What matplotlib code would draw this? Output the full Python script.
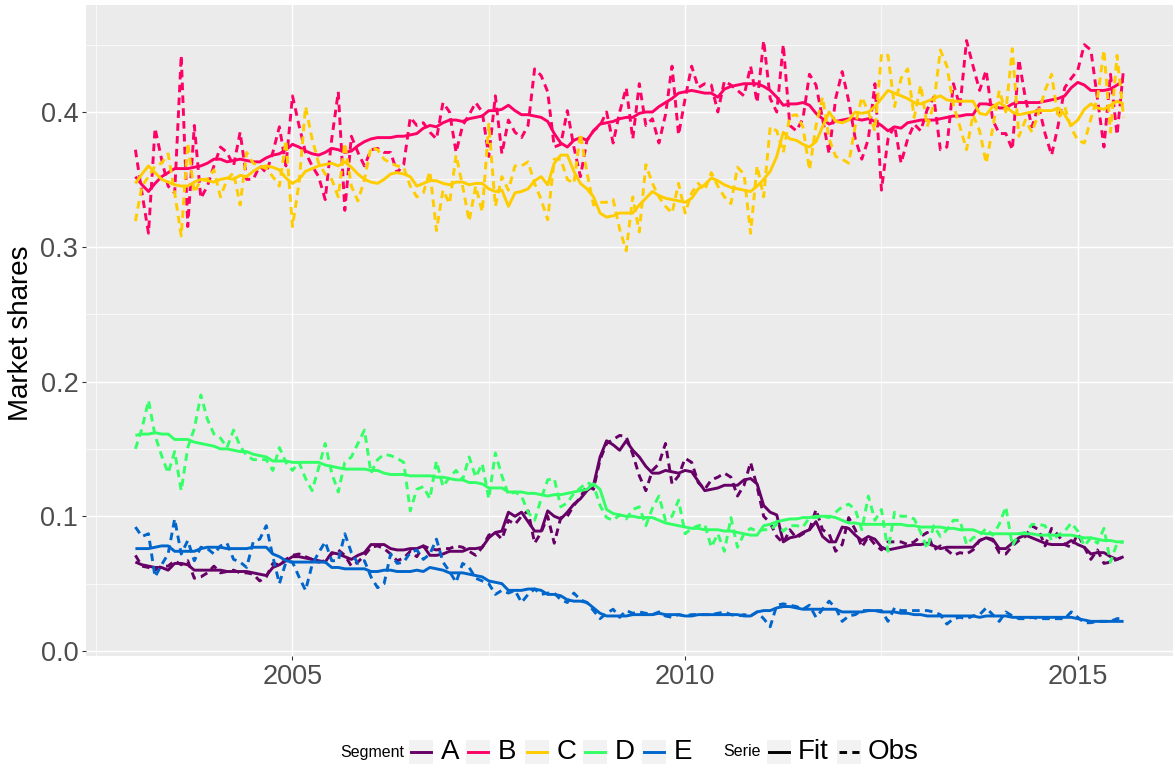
import numpy as np
import matplotlib
matplotlib.use("Agg")
import matplotlib.pyplot as plt
from matplotlib.lines import Line2D
from matplotlib.patches import Rectangle

plt.rcParams['font.family'] = ['Liberation Sans', 'DejaVu Sans']

# monthly series, Jan 2003 .. Aug 2015
start_year, n_months = 2003, 152
segments = ['A', 'B', 'C', 'D', 'E']
colors = {'A': '#660066', 'B': '#FF0066', 'C': '#FFCC00', 'D': '#33FF66', 'E': '#0066CC'}

fit_A = [0.066, 0.064, 0.063, 0.062, 0.062, 0.060, 0.065, 0.065, 0.064, 0.060, 0.060, 0.060,
         0.060, 0.060, 0.059, 0.059, 0.059, 0.059, 0.058, 0.057, 0.056, 0.062, 0.064, 0.067,
         0.070, 0.070, 0.069, 0.068, 0.067, 0.066, 0.073, 0.072, 0.070, 0.068, 0.071, 0.073,
         0.079, 0.079, 0.079, 0.076, 0.075, 0.075, 0.076, 0.076, 0.078, 0.071, 0.071, 0.072,
         0.074, 0.074, 0.074, 0.076, 0.076, 0.077, 0.084, 0.088, 0.089, 0.103, 0.100, 0.103,
         0.096, 0.089, 0.089, 0.104, 0.100, 0.098, 0.103, 0.109, 0.113, 0.119, 0.123, 0.144,
         0.156, 0.153, 0.149, 0.156, 0.149, 0.144, 0.137, 0.132, 0.132, 0.134, 0.133, 0.132,
         0.134, 0.133, 0.126, 0.119, 0.120, 0.121, 0.123, 0.123, 0.123, 0.127, 0.128, 0.124,
         0.108, 0.103, 0.101, 0.081, 0.084, 0.085, 0.088, 0.090, 0.096, 0.085, 0.081, 0.081,
         0.092, 0.091, 0.086, 0.082, 0.085, 0.083, 0.077, 0.075, 0.076, 0.077, 0.078, 0.079,
         0.079, 0.080, 0.078, 0.076, 0.077, 0.077, 0.077, 0.077, 0.077, 0.082, 0.084, 0.083,
         0.076, 0.076, 0.080, 0.084, 0.086, 0.084, 0.082, 0.080, 0.079, 0.079, 0.079, 0.082,
         0.079, 0.077, 0.072, 0.073, 0.073, 0.070, 0.068, 0.070]
obs_A = [0.071, 0.063, 0.062, 0.060, 0.063, 0.063, 0.067, 0.064, 0.067, 0.054, 0.055, 0.058,
         0.063, 0.058, 0.059, 0.060, 0.058, 0.058, 0.057, 0.052, 0.055, 0.065, 0.064, 0.068,
         0.071, 0.072, 0.070, 0.068, 0.066, 0.067, 0.072, 0.075, 0.071, 0.063, 0.066, 0.071,
         0.077, 0.078, 0.076, 0.072, 0.067, 0.069, 0.074, 0.070, 0.078, 0.076, 0.075, 0.076,
         0.076, 0.078, 0.077, 0.074, 0.071, 0.077, 0.086, 0.088, 0.083, 0.097, 0.094, 0.100,
         0.104, 0.080, 0.088, 0.100, 0.080, 0.099, 0.100, 0.108, 0.114, 0.123, 0.120, 0.142,
         0.154, 0.157, 0.160, 0.159, 0.146, 0.130, 0.119, 0.134, 0.139, 0.154, 0.124, 0.130,
         0.143, 0.140, 0.125, 0.120, 0.127, 0.129, 0.132, 0.129, 0.115, 0.123, 0.140, 0.122,
         0.100, 0.095, 0.085, 0.080, 0.090, 0.084, 0.087, 0.090, 0.105, 0.090, 0.087, 0.074,
         0.079, 0.099, 0.090, 0.077, 0.085, 0.079, 0.075, 0.081, 0.081, 0.081, 0.079, 0.081,
         0.085, 0.088, 0.075, 0.078, 0.075, 0.071, 0.073, 0.072, 0.075, 0.082, 0.084, 0.082,
         0.073, 0.072, 0.078, 0.082, 0.085, 0.093, 0.090, 0.078, 0.091, 0.086, 0.079, 0.077,
         0.087, 0.077, 0.068, 0.075, 0.065, 0.066, 0.068, 0.070]

fit_B = [0.352, 0.346, 0.341, 0.347, 0.352, 0.355, 0.358, 0.358, 0.358, 0.359, 0.360, 0.362,
         0.365, 0.365, 0.363, 0.364, 0.365, 0.364, 0.363, 0.363, 0.366, 0.368, 0.369, 0.372,
         0.376, 0.374, 0.371, 0.369, 0.368, 0.370, 0.373, 0.372, 0.370, 0.371, 0.375, 0.378,
         0.380, 0.381, 0.381, 0.381, 0.382, 0.382, 0.383, 0.384, 0.388, 0.390, 0.389, 0.392,
         0.394, 0.394, 0.393, 0.395, 0.396, 0.397, 0.401, 0.401, 0.402, 0.405, 0.401, 0.398,
         0.398, 0.397, 0.396, 0.393, 0.384, 0.377, 0.374, 0.379, 0.381, 0.379, 0.386, 0.391,
         0.392, 0.393, 0.395, 0.396, 0.396, 0.399, 0.400, 0.400, 0.404, 0.407, 0.410, 0.414,
         0.415, 0.416, 0.415, 0.414, 0.414, 0.411, 0.417, 0.419, 0.420, 0.421, 0.421, 0.421,
         0.419, 0.416, 0.411, 0.405, 0.406, 0.406, 0.407, 0.405, 0.399, 0.395, 0.391, 0.393,
         0.394, 0.395, 0.395, 0.394, 0.395, 0.393, 0.390, 0.386, 0.389, 0.388, 0.392, 0.393,
         0.394, 0.394, 0.394, 0.395, 0.396, 0.397, 0.397, 0.398, 0.398, 0.406, 0.406, 0.405,
         0.403, 0.403, 0.406, 0.407, 0.407, 0.407, 0.407, 0.408, 0.409, 0.410, 0.412, 0.418,
         0.422, 0.420, 0.416, 0.416, 0.416, 0.417, 0.420, 0.423]
obs_B = [0.372, 0.340, 0.310, 0.388, 0.365, 0.345, 0.340, 0.442, 0.315, 0.390, 0.336, 0.345,
         0.360, 0.374, 0.370, 0.360, 0.385, 0.350, 0.350, 0.360, 0.355, 0.370, 0.389, 0.360,
         0.412, 0.390, 0.370, 0.360, 0.352, 0.335, 0.380, 0.415, 0.327, 0.382, 0.370, 0.360,
         0.372, 0.373, 0.370, 0.370, 0.355, 0.361, 0.396, 0.390, 0.392, 0.385, 0.380, 0.407,
         0.400, 0.370, 0.390, 0.398, 0.407, 0.400, 0.367, 0.412, 0.369, 0.394, 0.385, 0.381,
         0.390, 0.432, 0.427, 0.415, 0.374, 0.376, 0.401, 0.374, 0.352, 0.379, 0.386, 0.390,
         0.400, 0.377, 0.400, 0.418, 0.380, 0.421, 0.390, 0.395, 0.377, 0.398, 0.434, 0.383,
         0.410, 0.434, 0.418, 0.421, 0.420, 0.400, 0.423, 0.420, 0.416, 0.412, 0.434, 0.407,
         0.453, 0.410, 0.400, 0.450, 0.390, 0.386, 0.395, 0.428, 0.420, 0.395, 0.369, 0.410,
         0.430, 0.408, 0.380, 0.365, 0.380, 0.421, 0.342, 0.380, 0.390, 0.362, 0.380, 0.391,
         0.386, 0.402, 0.411, 0.372, 0.374, 0.421, 0.404, 0.453, 0.434, 0.416, 0.431, 0.394,
         0.384, 0.384, 0.372, 0.439, 0.410, 0.389, 0.405, 0.384, 0.368, 0.390, 0.418, 0.425,
         0.431, 0.450, 0.446, 0.410, 0.374, 0.428, 0.383, 0.432]

fit_C = [0.347, 0.354, 0.360, 0.355, 0.350, 0.348, 0.346, 0.345, 0.345, 0.348, 0.350, 0.349,
         0.348, 0.350, 0.351, 0.350, 0.353, 0.352, 0.356, 0.359, 0.360, 0.359, 0.357, 0.351,
         0.347, 0.350, 0.356, 0.358, 0.360, 0.361, 0.362, 0.360, 0.363, 0.359, 0.354, 0.350,
         0.348, 0.347, 0.350, 0.354, 0.355, 0.354, 0.352, 0.345, 0.347, 0.349, 0.349, 0.347,
         0.346, 0.348, 0.348, 0.346, 0.347, 0.347, 0.343, 0.341, 0.342, 0.330, 0.340, 0.341,
         0.343, 0.349, 0.352, 0.346, 0.362, 0.368, 0.368, 0.356, 0.347, 0.343, 0.337, 0.325,
         0.322, 0.323, 0.325, 0.325, 0.325, 0.331, 0.336, 0.341, 0.338, 0.336, 0.335, 0.334,
         0.333, 0.336, 0.343, 0.346, 0.351, 0.349, 0.346, 0.344, 0.343, 0.342, 0.341, 0.345,
         0.350, 0.356, 0.367, 0.385, 0.380, 0.379, 0.376, 0.374, 0.378, 0.389, 0.400, 0.393,
         0.392, 0.394, 0.400, 0.399, 0.400, 0.404, 0.410, 0.416, 0.414, 0.412, 0.410, 0.407,
         0.406, 0.408, 0.410, 0.412, 0.409, 0.408, 0.408, 0.408, 0.408, 0.399, 0.398, 0.404,
         0.407, 0.404, 0.400, 0.398, 0.399, 0.400, 0.401, 0.401, 0.401, 0.403, 0.398, 0.390,
         0.394, 0.402, 0.406, 0.403, 0.402, 0.405, 0.408, 0.406]
obs_C = [0.319, 0.345, 0.352, 0.360, 0.362, 0.369, 0.340, 0.308, 0.377, 0.340, 0.350, 0.350,
         0.357, 0.337, 0.350, 0.355, 0.331, 0.370, 0.362, 0.360, 0.358, 0.352, 0.345, 0.379,
         0.315, 0.347, 0.404, 0.380, 0.362, 0.354, 0.350, 0.337, 0.377, 0.345, 0.334, 0.350,
         0.374, 0.372, 0.365, 0.362, 0.360, 0.359, 0.345, 0.337, 0.340, 0.356, 0.312, 0.342,
         0.332, 0.368, 0.345, 0.319, 0.345, 0.326, 0.391, 0.330, 0.352, 0.342, 0.360, 0.360,
         0.363, 0.347, 0.335, 0.320, 0.365, 0.365, 0.350, 0.347, 0.384, 0.355, 0.331, 0.333,
         0.333, 0.335, 0.313, 0.297, 0.337, 0.311, 0.361, 0.347, 0.337, 0.330, 0.325, 0.347,
         0.325, 0.340, 0.347, 0.342, 0.355, 0.345, 0.337, 0.332, 0.359, 0.354, 0.310, 0.360,
         0.337, 0.389, 0.386, 0.370, 0.397, 0.398, 0.389, 0.357, 0.390, 0.411, 0.380, 0.367,
         0.365, 0.362, 0.390, 0.411, 0.400, 0.386, 0.443, 0.442, 0.404, 0.425, 0.432, 0.396,
         0.420, 0.389, 0.406, 0.446, 0.434, 0.405, 0.389, 0.372, 0.398, 0.386, 0.362, 0.388,
         0.416, 0.400, 0.447, 0.382, 0.394, 0.385, 0.399, 0.416, 0.428, 0.395, 0.404, 0.388,
         0.379, 0.377, 0.395, 0.410, 0.446, 0.385, 0.442, 0.396]

fit_D = [0.160, 0.161, 0.161, 0.162, 0.161, 0.161, 0.157, 0.157, 0.157, 0.155, 0.154, 0.153,
         0.152, 0.150, 0.150, 0.149, 0.148, 0.148, 0.146, 0.145, 0.144, 0.141, 0.141, 0.141,
         0.140, 0.140, 0.140, 0.140, 0.140, 0.138, 0.137, 0.136, 0.135, 0.135, 0.135, 0.135,
         0.134, 0.134, 0.132, 0.131, 0.131, 0.131, 0.130, 0.130, 0.130, 0.130, 0.129, 0.129,
         0.128, 0.127, 0.127, 0.125, 0.125, 0.124, 0.121, 0.121, 0.121, 0.118, 0.118, 0.118,
         0.117, 0.117, 0.116, 0.115, 0.116, 0.116, 0.117, 0.118, 0.119, 0.120, 0.124, 0.120,
         0.105, 0.102, 0.101, 0.100, 0.100, 0.099, 0.099, 0.099, 0.097, 0.095, 0.094, 0.093,
         0.092, 0.091, 0.091, 0.090, 0.090, 0.090, 0.089, 0.089, 0.088, 0.087, 0.086, 0.086,
         0.093, 0.094, 0.096, 0.097, 0.098, 0.098, 0.099, 0.099, 0.100, 0.100, 0.100, 0.099,
         0.097, 0.095, 0.095, 0.094, 0.094, 0.094, 0.094, 0.094, 0.094, 0.094, 0.093, 0.093,
         0.092, 0.092, 0.092, 0.092, 0.091, 0.091, 0.090, 0.090, 0.090, 0.088, 0.087, 0.087,
         0.087, 0.087, 0.087, 0.087, 0.087, 0.087, 0.086, 0.086, 0.086, 0.086, 0.086, 0.086,
         0.085, 0.084, 0.084, 0.083, 0.082, 0.082, 0.081, 0.081]
obs_D = [0.150, 0.165, 0.186, 0.160, 0.145, 0.132, 0.148, 0.119, 0.151, 0.165, 0.190, 0.172,
         0.161, 0.158, 0.151, 0.164, 0.152, 0.145, 0.142, 0.142, 0.142, 0.134, 0.151, 0.140,
         0.134, 0.140, 0.128, 0.119, 0.136, 0.154, 0.132, 0.118, 0.140, 0.144, 0.154, 0.164,
         0.132, 0.142, 0.146, 0.145, 0.143, 0.140, 0.104, 0.120, 0.122, 0.113, 0.141, 0.122,
         0.129, 0.134, 0.127, 0.144, 0.129, 0.139, 0.113, 0.147, 0.130, 0.116, 0.118, 0.115,
         0.103, 0.097, 0.113, 0.127, 0.128, 0.107, 0.110, 0.117, 0.121, 0.125, 0.123, 0.108,
         0.099, 0.097, 0.101, 0.098, 0.105, 0.107, 0.093, 0.106, 0.115, 0.097, 0.100, 0.112,
         0.087, 0.091, 0.093, 0.094, 0.077, 0.087, 0.074, 0.099, 0.077, 0.087, 0.091, 0.089,
         0.090, 0.090, 0.094, 0.089, 0.093, 0.093, 0.092, 0.099, 0.099, 0.100, 0.099, 0.103,
         0.107, 0.109, 0.105, 0.090, 0.115, 0.097, 0.105, 0.074, 0.103, 0.100, 0.100, 0.098,
         0.088, 0.076, 0.093, 0.085, 0.090, 0.097, 0.097, 0.079, 0.084, 0.086, 0.091, 0.086,
         0.094, 0.107, 0.078, 0.087, 0.088, 0.094, 0.094, 0.093, 0.082, 0.086, 0.089, 0.095,
         0.089, 0.078, 0.084, 0.080, 0.091, 0.066, 0.080, 0.081]

fit_E = [0.076, 0.076, 0.076, 0.077, 0.078, 0.078, 0.074, 0.074, 0.074, 0.074, 0.076, 0.077,
         0.077, 0.077, 0.076, 0.076, 0.076, 0.076, 0.077, 0.077, 0.077, 0.072, 0.070, 0.067,
         0.066, 0.066, 0.066, 0.066, 0.066, 0.066, 0.062, 0.062, 0.061, 0.061, 0.061, 0.061,
         0.059, 0.059, 0.060, 0.060, 0.059, 0.059, 0.059, 0.060, 0.059, 0.062, 0.061, 0.060,
         0.058, 0.058, 0.058, 0.057, 0.056, 0.055, 0.052, 0.051, 0.050, 0.045, 0.045, 0.045,
         0.046, 0.046, 0.045, 0.042, 0.042, 0.041, 0.038, 0.037, 0.037, 0.036, 0.032, 0.028,
         0.026, 0.026, 0.026, 0.026, 0.027, 0.027, 0.027, 0.027, 0.028, 0.027, 0.027, 0.027,
         0.026, 0.026, 0.027, 0.027, 0.027, 0.027, 0.027, 0.027, 0.027, 0.026, 0.026, 0.029,
         0.030, 0.030, 0.032, 0.033, 0.033, 0.032, 0.031, 0.031, 0.031, 0.031, 0.031, 0.031,
         0.029, 0.029, 0.029, 0.029, 0.030, 0.030, 0.029, 0.029, 0.029, 0.028, 0.028, 0.027,
         0.027, 0.026, 0.026, 0.026, 0.026, 0.026, 0.026, 0.026, 0.026, 0.025, 0.026, 0.026,
         0.026, 0.026, 0.025, 0.025, 0.025, 0.025, 0.025, 0.025, 0.025, 0.025, 0.025, 0.025,
         0.024, 0.023, 0.022, 0.022, 0.022, 0.022, 0.022, 0.022]
obs_E = [0.092, 0.085, 0.087, 0.055, 0.064, 0.072, 0.098, 0.072, 0.082, 0.067, 0.077, 0.076,
         0.072, 0.078, 0.080, 0.068, 0.066, 0.062, 0.081, 0.083, 0.093, 0.070, 0.050, 0.066,
         0.066, 0.055, 0.045, 0.064, 0.073, 0.081, 0.067, 0.067, 0.087, 0.073, 0.065, 0.067,
         0.055, 0.047, 0.050, 0.072, 0.065, 0.066, 0.073, 0.075, 0.068, 0.072, 0.083, 0.066,
         0.059, 0.051, 0.065, 0.062, 0.054, 0.052, 0.050, 0.042, 0.045, 0.043, 0.045, 0.036,
         0.042, 0.046, 0.042, 0.043, 0.043, 0.038, 0.036, 0.043, 0.038, 0.036, 0.030, 0.024,
         0.028, 0.031, 0.025, 0.030, 0.028, 0.029, 0.028, 0.027, 0.029, 0.026, 0.025, 0.027,
         0.026, 0.027, 0.027, 0.027, 0.027, 0.028, 0.029, 0.027, 0.026, 0.027, 0.026, 0.029,
         0.024, 0.018, 0.034, 0.035, 0.034, 0.033, 0.031, 0.034, 0.025, 0.031, 0.037, 0.032,
         0.022, 0.026, 0.027, 0.030, 0.030, 0.030, 0.030, 0.022, 0.032, 0.030, 0.030, 0.030,
         0.030, 0.030, 0.029, 0.027, 0.020, 0.024, 0.025, 0.024, 0.026, 0.027, 0.032, 0.027,
         0.022, 0.029, 0.026, 0.024, 0.024, 0.025, 0.024, 0.024, 0.024, 0.024, 0.024, 0.029,
         0.025, 0.021, 0.021, 0.022, 0.022, 0.022, 0.024, 0.024]

fits = {'A': fit_A, 'B': fit_B, 'C': fit_C, 'D': fit_D, 'E': fit_E}
obss = {'A': obs_A, 'B': obs_B, 'C': obs_C, 'D': obs_D, 'E': obs_E}

t = start_year + np.arange(n_months) / 12.0

W, H = 1175, 769
fig = plt.figure(figsize=(W / 100, H / 100), dpi=100)
ax = fig.add_axes([86 / W, (H - 656) / H, (1173 - 86) / W, (656 - 5) / H])
ax.set_facecolor('#EBEBEB')

dash = (0, (2.6, 1.8))
lw = 2.1
for s in segments:
    ax.plot(t, obss[s], color=colors[s], lw=lw, linestyle=dash, zorder=3)
    ax.plot(t, fits[s], color=colors[s], lw=lw, solid_capstyle='butt', zorder=3)

span = t[-1] - t[0]
ax.set_xlim(t[0] - 0.05 * span, t[-1] + 0.05 * span)
ax.set_ylim(-0.0037, 0.4794)

ax.set_xticks([2005, 2010, 2015])
ax.set_xticks([2002.5, 2007.5, 2012.5], minor=True)
ax.set_yticks([0.0, 0.1, 0.2, 0.3, 0.4])
ax.set_yticklabels(['0.0', '0.1', '0.2', '0.3', '0.4'])
ax.set_yticks([0.05, 0.15, 0.25, 0.35, 0.45], minor=True)
ax.grid(which='major', color='white', lw=1.05, zorder=0)
ax.grid(which='minor', color='white', lw=0.5, zorder=0)
ax.set_axisbelow(True)
for sp in ax.spines.values():
    sp.set_visible(False)
ax.tick_params(which='major', length=3, width=0.8, color='#333333',
               labelsize=19.5, labelcolor='#4D4D4D', pad=2.5)
ax.tick_params(which='minor', length=0)

fig.text(21 / W, (H - 333) / H, 'Market shares', rotation=90, fontsize=20,
         ha='center', va='center')

# legend along the bottom
ly = (H - 752) / H


def key(x0, color, style):
    fig.add_artist(Rectangle((x0 / W, ly - 12 / H), 24 / W, 24 / H,
                             transform=fig.transFigure, facecolor='#F2F2F2',
                             edgecolor='none'))
    fig.add_artist(Line2D([(x0 + 2) / W, (x0 + 22) / W], [ly, ly],
                          transform=fig.transFigure, color=color, lw=lw,
                          linestyle=style))


fig.text(340 / W, ly, 'Segment', fontsize=11.5, ha='left', va='center')
key_x = [409, 466, 525, 583, 642]
for s, kx in zip(segments, key_x):
    key(kx, colors[s], '-')
    fig.text((kx + 32) / W, ly, s, fontsize=20, ha='left', va='center')

fig.text(723 / W, ly, 'Serie', fontsize=11.5, ha='left', va='center')
key(767, 'black', '-')
fig.text(798 / W, ly, 'Fit', fontsize=20, ha='left', va='center')
key(837, 'black', dash)
fig.text(868 / W, ly, 'Obs', fontsize=20, ha='left', va='center')

fig.savefig('out.png', dpi=100)
